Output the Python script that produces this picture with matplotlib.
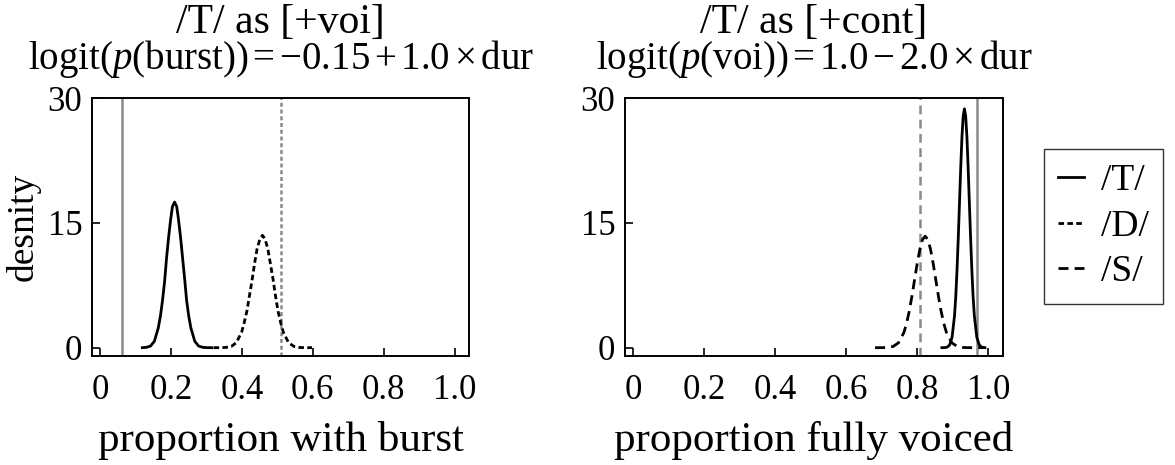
import matplotlib
matplotlib.use("Agg")
import matplotlib.pyplot as plt

plt.rcParams['font.family'] = ['Liberation Serif', 'DejaVu Serif']
plt.rcParams['mathtext.fontset'] = 'custom'
plt.rcParams['mathtext.rm'] = 'Liberation Serif'
plt.rcParams['mathtext.it'] = 'Liberation Serif:italic'

# ---------------- data ----------------
titles = ["/T/ as [+voi]", "/T/ as [+cont]"]
subtitles = [r"logit($p$(burst))$\,$=$\,$−0.15$\,$+$\,$1.0$\,$×$\,$dur",
             r"logit($p$(voi))$\,$=$\,$1.0$\,$−$\,$2.0$\,$×$\,$dur"]
xlabels = ["proportion with burst", "proportion fully voiced"]
ylabel = "desnity"
xticks = [0, 0.2, 0.4, 0.6, 0.8, 1.0]
xticklabels = ["0", "0.2", "0.4", "0.6", "0.8", "1.0"]
yticks = [0, 15, 30]
legend_labels = ["/T/", "/D/", "/S/"]

# left panel: /T/ (solid) and /D/ (dotted) densities
left_T_x = [0.119, 0.130, 0.142, 0.153, 0.164, 0.170, 0.176, 0.182, 0.187,
            0.193, 0.199, 0.204, 0.210, 0.216, 0.221, 0.227, 0.233, 0.239,
            0.244, 0.250, 0.256, 0.267, 0.278, 0.290, 0.301, 0.315]
left_T_y = [0.005, 0.04, 0.19, 0.77, 2.37, 3.79, 5.68, 8.01, 10.61, 13.21,
            15.44, 16.96, 17.5, 16.96, 15.44, 13.21, 10.61, 8.01, 5.68, 3.79,
            2.37, 0.77, 0.19, 0.04, 0.005, 0.0]
left_D_x = [0.320, 0.340, 0.355, 0.370, 0.384, 0.399, 0.406, 0.414, 0.421,
            0.429, 0.436, 0.443, 0.451, 0.458, 0.465, 0.473, 0.480, 0.488,
            0.495, 0.502, 0.510, 0.517, 0.532, 0.547, 0.561, 0.576, 0.598]
left_D_y = [0.0, 0.004, 0.03, 0.15, 0.59, 1.83, 2.92, 4.38, 6.18, 8.19, 10.19,
            11.91, 13.08, 13.5, 13.08, 11.91, 10.19, 8.19, 6.18, 4.38, 2.92,
            1.83, 0.59, 0.15, 0.03, 0.004, 0.0]
# observed values (grey reference lines), left panel
left_obs_T = 0.061
left_obs_D = 0.51

# right panel: /T/ (solid) and /S/ (dashed) densities
right_T_x = [0.869, 0.8769, 0.8838, 0.8908, 0.8977, 0.9047, 0.9082, 0.9116,
             0.9151, 0.9186, 0.9221, 0.9255, 0.929, 0.9325, 0.936, 0.9395,
             0.9429, 0.9464, 0.9499, 0.9534, 0.9568, 0.9603, 0.9673, 0.9742,
             0.9812, 0.9881, 0.990]
right_T_y = [0.0, 0.009, 0.06, 0.32, 1.26, 3.88, 6.21, 9.32, 13.14, 17.41,
             21.66, 25.33, 27.82, 28.7, 27.82, 25.33, 21.66, 17.41, 13.14,
             9.32, 6.21, 3.88, 1.26, 0.32, 0.06, 0.009, 0.0]
right_S_x = [0.681, 0.702, 0.717, 0.732, 0.747, 0.762, 0.7695, 0.777, 0.7845,
             0.792, 0.7995, 0.807, 0.8145, 0.822, 0.8295, 0.837, 0.8445,
             0.852, 0.8595, 0.867, 0.8745, 0.882, 0.897, 0.912, 0.927, 0.942,
             0.986]
right_S_y = [0.0, 0.004, 0.03, 0.15, 0.59, 1.81, 2.90, 4.35, 6.13, 8.13,
             10.11, 11.83, 12.99, 13.4, 12.99, 11.83, 10.11, 8.13, 6.13, 4.35,
             2.90, 1.81, 0.59, 0.15, 0.03, 0.004, 0.0]
right_obs_S = 0.808
right_obs_T = 0.969

# ---------------- styles ----------------
LW = 2.0
solid = '-'
dotted = (0, (2.0, 1.2))
dashed = (0, (3.6, 2.2))
grey = '#8a8a8a'

fig = plt.figure(figsize=(11.75, 4.65), dpi=100)
axL = fig.add_axes([0.0783, 0.2344, 0.3209, 0.5548])
axR = fig.add_axes([0.5319, 0.2344, 0.3217, 0.5548])

# left
axL.axvline(left_obs_T, color=grey, lw=1.8, ls='-')
axL.axvline(left_obs_D, color=grey, lw=1.8, ls=(0, (1.6, 1.1)))
hT, = axL.plot(left_T_x, left_T_y, color='black', lw=LW, ls=solid)
hD, = axL.plot(left_D_x, left_D_y, color='black', lw=LW, ls=dotted)

# right
axR.axvline(right_obs_S, color=grey, lw=1.8, ls=(0, (3.5, 2.2)))
axR.axvline(right_obs_T, color=grey, lw=1.8, ls='-')
axR.plot(right_T_x, right_T_y, color='black', lw=LW, ls=solid)
hS, = axR.plot(right_S_x, right_S_y, color='black', lw=LW, ls=dashed)

for i, ax in enumerate([axL, axR]):
    ax.set_xlim(-0.023, 1.041)
    ax.set_ylim(-1.0, 30)
    ax.set_xticks(xticks)
    ax.set_xticklabels(xticklabels)
    ax.set_yticks(yticks)
    ax.tick_params(direction='in', length=6, width=1.2, labelsize=25,
                   top=False, right=False)
    ax.tick_params(axis='x', pad=13)
    ax.tick_params(axis='y', pad=7)
    for s in ax.spines.values():
        s.set_linewidth(1.4)
    ax.set_xlabel(xlabels[i], fontsize=31, labelpad=10)
    cx = (ax.get_position().x0 + ax.get_position().x1) / 2
    fig.text(cx, 0.952, titles[i], ha='center', va='center', fontsize=30)
    fig.text(cx, 0.873, subtitles[i], ha='center', va='center', fontsize=28)

axL.set_ylabel(ylabel, fontsize=27, labelpad=5)

leg = fig.legend([hT, hD, hS], legend_labels, loc='center left',
                 bbox_to_anchor=(0.8885, 0.513), fontsize=27, frameon=True,
                 fancybox=False, edgecolor='black', handlelength=0.7,
                 handletextpad=0.45, labelspacing=0.3, borderpad=0.38,
                 borderaxespad=0)
leg.get_frame().set_linewidth(1.0)

fig.savefig("out.png", dpi=100)
